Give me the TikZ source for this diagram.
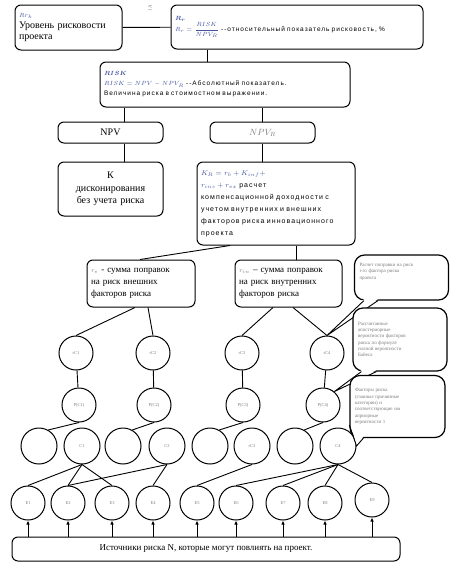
\documentclass[tikz,border=0pt]{standalone}
\usepackage{amsmath}
\usepackage{fontspec}
\setmainfont{Liberation Serif}
\newfontfamily\arfont[LetterSpace=15]{Liberation Sans}
\usetikzlibrary{arrows.meta}
\definecolor{eqc}{RGB}{70,85,160}
\definecolor{lab}{RGB}{125,125,125}
\tikzset{
 box/.style={draw, rounded corners=6pt, line width=1pt, fill=white, inner sep=4pt, align=left},
 sbox/.style={box, font=\arfont\fontsize{7}{12}\selectfont},
 cbox/.style={draw, rounded corners=10pt, line width=1.2pt, fill=white, inner xsep=5pt, inner ysep=4pt, align=left, text=lab, font=\fontsize{5}{6.3}\selectfont},
 circ/.style={draw, circle, minimum size=34pt, inner sep=0pt, line width=1pt, text=lab, font=\fontsize{4.5}{5}\selectfont},
 bcirc/.style={circ, minimum size=36pt},
 ln/.style={line width=0.9pt},
 arr/.style={line width=0.9pt, -{Latex[length=4pt,width=3.5pt]}}
}
\begin{document}
\begin{tikzpicture}[x=1pt,y=-1pt]
\useasboundingbox (0,0) rectangle (450,570);
% top boxes
\node[box, text width=99pt, minimum height=45pt, font=\fontsize{10}{11}\selectfont] (A) at (68.5,27.5)
 {{\color{eqc}\fontsize{6}{7}\selectfont$Rr_k$}\\Уровень рисковости\\проекта};
\node[box, text width=244pt, minimum height=44pt, font=\arfont\fontsize{6.5}{9}\selectfont] (B) at (297,27)
 {{\color{eqc}$\boldsymbol{R_r}$}\\{\color{eqc}$R_r=\dfrac{RISK}{NPV_R}$} --относительный показатель рисковость, \%};
\node[rotate=90, font=\fontsize{5}{5}\selectfont, text=lab] (tt) at (150,8) {1A};
\node[box, text width=242pt, minimum height=45pt, font=\arfont\fontsize{6.5}{10}\selectfont] (C) at (225,84.5)
 {{\color{eqc}$\boldsymbol{RISK}$}\\{\color{eqc}$RISK = NPV - NPV_R$} --Абсолютный показатель.\\Величина риска в стоимостном выражении.};
\node[box, minimum width=105pt, minimum height=21pt, align=center, font=\fontsize{10}{11}\selectfont] (NPV) at (110.5,132.5) {NPV};
\node[box, minimum width=105pt, minimum height=21pt, align=center, font=\fontsize{9}{10}\selectfont] (NPVR) at (262.5,132.5) {\color{lab}$NPV_R$};
\node[box, text width=97pt, minimum height=54pt, align=center, font=\fontsize{10}{12.5}\selectfont] (K) at (110.5,189)
 {К\\дисконирования\\без учета риска};
\node[sbox, text width=150pt, minimum height=83pt] (KR) at (276,203.5)
 {{\color{eqc}$K_R = r_b + K_{inf} +$}\\{\color{eqc}$r_{ins} + r_{ex}$} расчет\\компенсационной доходности с\\учетом внутренних и внешних\\факторов риска инновационного\\проекта};
\node[box, text width=100pt, minimum height=47pt, font=\fontsize{9}{12}\selectfont] (RE) at (141,283.5)
 {{\color{lab}\fontsize{6}{7}\selectfont$r_e$} - сумма поправок\\на риск внешних\\факторов риска};
\node[box, text width=99pt, minimum height=47pt, font=\fontsize{9}{12}\selectfont] (RIN) at (288.5,283.5)
 {{\color{lab}\fontsize{6}{7}\selectfont$r_{in}$} -- сумма поправок\\на риск внутренних\\факторов риска};
% helper x positions
\coordinate (xB) at (207,0);
\coordinate (x124) at (124,0);
\coordinate (x262) at (262,0);
\coordinate (x230) at (230,0);
\coordinate (x140) at (140,0);
\coordinate (x296) at (296,0);
\coordinate (x135) at (135,0);
\coordinate (x148) at (148,0);
\coordinate (x273) at (273,0);
\coordinate (x293) at (293,0);
\draw[ln] (A) -- (B);
\draw[ln] (B.south -| xB) -- (C.north -| xB);
\draw[ln] (C.south -| x124) -- (NPV.north -| x124);
\draw[ln] (C.south -| x262) -- (NPVR.north -| x262);
\draw[ln] (NPV.south -| x124) -- (K.north -| x124);
\draw[ln] (NPVR.south -| x262) -- (KR.north -| x262);
\draw[ln] (KR.south -| x230) -- (RE.north -| x140);
\draw[ln] (KR.south -| x296) -- (RIN.north -| x296);
% circles row 1
\node[circ] (rC1) at (76,353) {rC1};
\node[circ] (rC2) at (153,353) {rC2};
\node[circ] (rC3) at (242,353) {rC3};
\node[circ] (rC4) at (327,353) {rC4};
\draw[ln] (RE.south -| x135) -- (rC1.north);
\draw[ln] (RE.south -| x148) -- (rC2.north);
\draw[ln] (RIN.south -| x273) -- (rC3.north);
\draw[ln] (RIN.south -| x293) -- (rC4.north);
% row 2
\node[circ] (P1) at (79,405) {P(C1)};
\node[circ] (P2) at (154,405) {P(C2)};
\node[circ] (P3) at (243,405) {P(C3)};
\node[circ] (P4) at (323,405) {P(C4)};
\foreach \i in {1,...,4} \draw[ln] (rC\i) -- (P\i);
% row 3
\node[bcirc] (L1) at (39,446) {};
\node[bcirc] (C1) at (82,446) {C1};
\node[bcirc] (L2) at (123,446) {};
\node[bcirc] (C2) at (167,446) {C2};
\node[bcirc] (L3) at (210,446) {};
\node[bcirc] (C3) at (252,446) {rC3};
\node[bcirc] (L4) at (295,446) {};
\node[bcirc] (C4) at (338,446) {C4};
\foreach \i in {1,...,4} \draw[ln] (P\i.south) -- (L\i.60);
% row 4
\node[circ] (E1) at (28,503) {E1};
\node[circ] (E2) at (68,503) {E2};
\node[circ] (E3) at (112,503) {E3};
\node[circ] (E4) at (153,503) {E4};
\node[circ] (E5) at (197,503) {E5};
\node[circ] (E6) at (236,503) {E6};
\node[circ] (E7) at (283,503) {E7};
\node[circ] (E8) at (325,503) {E8};
\node[circ] (E9) at (372,500) {E9};
\draw[ln] (C1.south) -- (E1.north);
\draw[ln] (C1.south) -- (E2.north);
\draw[ln] (C1.south) -- (E3.north);
\draw[ln] (C2.south) -- (E2.north);
\draw[ln] (C2.south) -- (E4.north);
\draw[ln] (C3.south) -- (E5.north);
\draw[ln] (C4.south) -- (E6.north);
\draw[ln] (C4.south) -- (E7.north);
\draw[ln] (C4.south) -- (E8.north);
\draw[ln] (C4.south) -- (E9.north);
% bottom box
\node[box, minimum width=388pt, minimum height=24pt, align=center, font=\fontsize{9}{10}\selectfont] (S) at (206,549)
 {Источники риска N, которые могут повлиять на проект.};
\foreach \i in {1,...,9} \draw[arr] (E\i.south |- S.north) -- (E\i.south);
% callouts
\node[cbox, text width=84pt, minimum height=45pt] (N1) at (401.5,277.5)
 {Расчет поправки на риск\\i-го фактора риска\\проекта\\ \mbox{}\\ \mbox{}};
\fill[white] ([xshift=10pt,yshift=1.5pt]N1.south west) -- (rC4.north) -- ([xshift=24pt,yshift=1.5pt]N1.south west) -- cycle;
\draw[ln] ([xshift=10pt]N1.south west) -- (rC4.north) -- ([xshift=24pt]N1.south west);
\node[cbox, text width=84pt, minimum height=63pt] (N2) at (400,339.5)
 {Рассчитанные\\апостериорные\\вероятности факторов\\риска по формуле\\полной вероятности\\Байеса};
\fill[white] ([xshift=9pt,yshift=1.5pt]N2.south west) -- (P4.50) -- ([xshift=24pt,yshift=1.5pt]N2.south west) -- cycle;
\draw[ln] ([xshift=9pt]N2.south west) -- (P4.50) -- ([xshift=24pt]N2.south west);
\node[cbox, text width=85pt, minimum height=62pt] (N3) at (397.5,406.5)
 {Факторы риска\\(главные причинные\\категории) и\\соответствующие им\\априорные\\вероятности 1};
\fill[white] ([yshift=13pt,xshift=1.5pt]N3.south west) -- (C4.east) -- ([xshift=14pt,yshift=1.5pt]N3.south west) -- cycle;
\draw[ln] ([yshift=13pt]N3.south west) -- (C4.east) -- ([xshift=14pt]N3.south west);
\end{tikzpicture}
\end{document}
